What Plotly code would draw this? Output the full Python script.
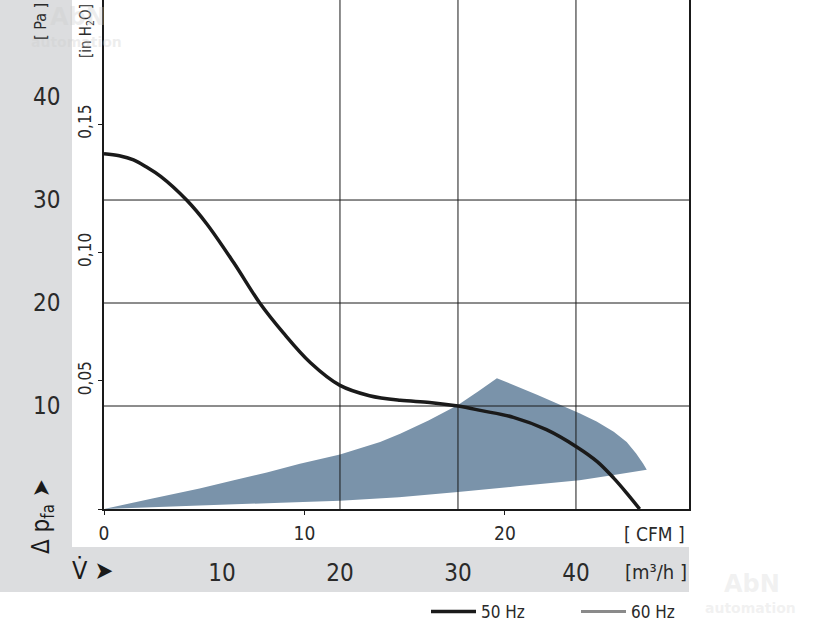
import plotly.graph_objects as go

# ---------------- data ----------------
# 50 Hz characteristic: flow [m3/h] vs static pressure [Pa]
flow_50hz = [0, 1.3, 2.5, 3.6, 4.8, 7.0, 8.7, 11.0, 13.2, 15.2, 17.5, 20.0, 22.5,
             25.1, 27.6, 30.0, 32.0, 34.7, 37.5, 40.1, 41.8, 43.2, 44.3, 45.4]
dp_50hz = [34.5, 34.3, 33.9, 33.2, 32.3, 30.0, 27.7, 23.9, 20.0, 17.1, 14.2, 12.0, 11.0,
           10.55, 10.35, 10.0, 9.55, 8.9, 7.7, 6.0, 4.6, 3.0, 1.55, 0.0]

# shaded operating region: upper edge (left -> tip) and lower edge (left -> tip)
region_upper_flow = [0, 4.0, 8.1, 11.0, 13.8, 16.6, 20.0, 23.4, 25.1, 27.5, 30.0, 31.7, 33.3,
                     36.7, 40.3, 41.75, 43.2, 44.3, 45.1, 45.7, 46.0]
region_upper_dp = [0, 1.0, 2.0, 2.8, 3.55, 4.4, 5.3, 6.5, 7.3, 8.6, 10.1, 11.4, 12.7,
                   11.1, 9.3, 8.5, 7.5, 6.5, 5.4, 4.4, 3.8]
region_lower_flow = [0, 8.1, 15.0, 20.0, 25.0, 30.0, 35.0, 40.3, 43.2, 46.0]
region_lower_dp = [0, 0.35, 0.6, 0.8, 1.15, 1.65, 2.2, 2.8, 3.3, 3.8]

# axes
flow_ticks = [10, 20, 30, 40]          # m3/h
dp_ticks = [10, 20, 30, 40]            # Pa
cfm_ticks = [0, 10, 20]                # CFM
inh2o_ticks = [0, 0.05, 0.10, 0.15]    # in H2O
inh2o_labels = ["", "0,05", "0,10", "0,15"]
grid_flow = [20, 30, 40]
grid_dp = [10, 20, 30]
legend_names = ["50 Hz", "60 Hz"]

FLOW_MAX = 49.58      # m3/h at right frame
DP_MAX = 49.42        # Pa at top
M3H_PER_CFM = 1.699
PA_PER_INH2O = 249.09

FONT = "Liberation Sans Narrow, Arial Narrow, DejaVu Sans Condensed, sans-serif"
TXT = "#2a2a2a"
BAND = "#dcdddf"
FIG_H = 640           # page is cropped at 624; extra room keeps the legend from pushing margins

# ---------------- figure ----------------
fig = go.Figure()

poly_x = region_upper_flow + region_lower_flow[::-1]
poly_y = region_upper_dp + region_lower_dp[::-1]
fig.add_trace(go.Scatter(x=poly_x, y=poly_y, fill="toself", mode="none",
                         fillcolor="#7a93aa", showlegend=False, hoverinfo="skip"))

fig.add_trace(go.Scatter(x=flow_50hz, y=dp_50hz, mode="lines", name=legend_names[0],
                         line=dict(color="#1a1a1a", width=3.5, shape="spline", smoothing=1.0)))
fig.add_trace(go.Scatter(x=[None], y=[None], mode="lines", name=legend_names[1],
                         line=dict(color="#8a8a8a", width=3)))

# secondary unit axes (invisible trace to activate them)
fig.add_trace(go.Scatter(x=[None], y=[None], xaxis="x2", yaxis="y2",
                         showlegend=False, hoverinfo="skip"))

shapes = []
def px(xp):
    return (xp - 104) / 585.0
def py(yp):
    return (509 - yp) / 509.0

shapes.append(dict(type="rect", xref="paper", yref="paper", layer="below",
                   x0=px(0), x1=px(72), y0=py(592), y1=1.0,
                   fillcolor=BAND, line=dict(width=0)))
shapes.append(dict(type="rect", xref="paper", yref="paper", layer="below",
                   x0=px(0), x1=1.0, y0=py(592), y1=py(547),
                   fillcolor=BAND, line=dict(width=0)))
for g in grid_flow:
    shapes.append(dict(type="line", xref="x", yref="paper", x0=g, x1=g, y0=0, y1=1,
                       layer="above", line=dict(color="#1a1a1a", width=1)))
for g in grid_dp:
    shapes.append(dict(type="line", xref="paper", yref="y", x0=0, x1=1, y0=g, y1=g,
                       layer="above", line=dict(color="#1a1a1a", width=1)))

def ann(text, x, y, size, color=TXT, angle=0, family=FONT):
    return dict(text=text, x=px(x), y=py(y), xref="paper", yref="paper",
                xanchor="center", yanchor="middle", textangle=angle, showarrow=False,
                font=dict(family=family, size=size, color=color))

WM = "rgba(205,205,205,0.35)"
annotations = [
    ann("[ Pa ]", 40, 22, 16, angle=-90),
    ann("[in H<sub>2</sub>O]", 86, 31, 15, angle=-90),
    ann("Δ p<sub>fa</sub> ➤", 42, 517, 24, color="#1a1a1a", angle=-90),
    ann("V\u0307 ➤", 92, 570, 25, color="#1a1a1a"),
    ann("[m³/h ]", 656, 572, 20),
    ann("[ CFM ]", 654, 534, 19),
    ann("<b>AbN</b>", 78, 17, 24, color=WM, family="DejaVu Sans"),
    ann("<b>automation</b>", 76, 42, 14, color=WM, family="DejaVu Sans"),
    ann("<b>AbN</b>", 752, 584, 24, color="rgba(220,220,220,0.4)", family="DejaVu Sans"),
    ann("<b>automation</b>", 750, 608, 14, color="rgba(220,220,220,0.4)", family="DejaVu Sans"),
]

fig.update_layout(
    width=816, height=FIG_H,
    margin=dict(l=104, r=127, t=0, b=FIG_H - 509),
    paper_bgcolor="white", plot_bgcolor="white",
    font=dict(family=FONT, color=TXT),
    shapes=shapes, annotations=annotations,
    showlegend=True,
    legend=dict(orientation="h", x=px(426), y=py(612), xanchor="left", yanchor="middle",
                entrywidth=90, entrywidthmode="pixels", itemwidth=45,
                font=dict(family=FONT, size=17, color=TXT), bgcolor="rgba(0,0,0,0)"),
    xaxis=dict(range=[0, FLOW_MAX], tickvals=flow_ticks, ticks="", showgrid=False,
               zeroline=False, showline=True, linecolor="#1a1a1a", linewidth=1.5,
               tickfont=dict(family=FONT, size=24, color=TXT), ticklabelstandoff=41,
               automargin=False, fixedrange=True),
    xaxis2=dict(range=[0, FLOW_MAX / M3H_PER_CFM], overlaying="x", anchor="y", side="bottom",
                tickvals=cfm_ticks, ticks="outside", ticklen=5, tickcolor="#1a1a1a",
                showgrid=False, zeroline=False, showline=False, ticklabelstandoff=2,
                tickfont=dict(family=FONT, size=19, color=TXT), automargin=False),
    yaxis=dict(range=[0, DP_MAX], tickvals=dp_ticks, ticks="", showgrid=False,
               zeroline=False, showline=True, linecolor="#1a1a1a", linewidth=1.5, mirror=True,
               tickfont=dict(family=FONT, size=24, color=TXT), ticklabelstandoff=37,
               automargin=False),
    yaxis2=dict(range=[0, DP_MAX / PA_PER_INH2O], overlaying="y", anchor="x", side="left",
                tickvals=inh2o_ticks, ticktext=inh2o_labels, ticks="outside", ticklen=5,
                tickcolor="#1a1a1a", tickangle=-90, showgrid=False, zeroline=False,
                showline=False, tickfont=dict(family=FONT, size=17, color=TXT),
                automargin=False),
)

fig.write_html("out.html", config={"displayModeBar": False},
               post_script="document.body.style.margin='0px';"
                           "document.body.style.overflow='hidden';")
